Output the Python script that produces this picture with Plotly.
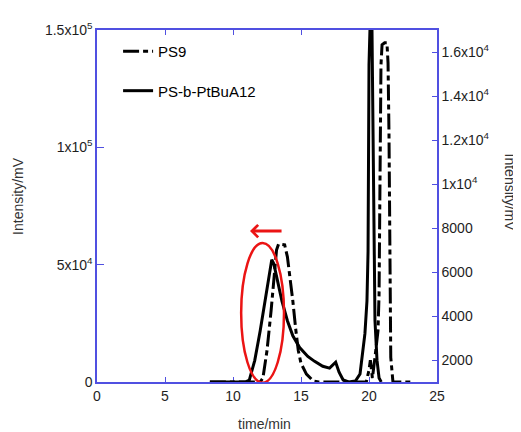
import plotly.graph_objects as go

# ---- data ----
ps9_t = [8.3, 12.0, 12.2, 12.5, 12.8, 13.0, 13.2, 13.35, 13.8, 14.0, 14.2, 14.4, 14.6, 14.8, 15.0, 15.4,
         15.9, 16.3, 19.8, 20.0, 20.1, 20.25, 20.44, 20.66, 20.74, 20.81, 20.88, 20.96, 21.15, 21.32,
         21.4, 21.47, 21.54, 21.6, 21.76, 23.3]
ps9_v = [1000, 1000, 1180, 2430, 4230, 5800, 7000, 7270, 7230, 6690, 5800, 4680, 3470, 2430, 1850, 1360,
         1045, 1000, 1000, 1540, 1990, 1180, 2120, 3320, 4970, 9160, 15400, 16330, 16420, 16420,
         15500, 12300, 6920, 2120, 1000, 1000]

blk_t = [8.3, 10.9, 11.2, 11.6, 12.0, 12.4, 12.7, 12.85, 13.0, 13.3, 13.6, 14.0, 14.4, 14.9, 15.5, 16.0,
         16.6, 17.1, 17.4, 17.55, 17.8, 18.1, 18.5, 19.0, 19.34, 19.49, 19.7, 19.85, 19.93, 20.0, 20.07,
         20.22, 20.29, 20.37, 20.44, 20.59, 20.74, 20.9]
blk_v = [0, 0, 840, 9240, 21800, 36500, 47900, 52100, 50400, 42900, 34500, 26100, 19700, 14700, 10900, 8800,
         6700, 5900, 7600, 8400, 4200, 840, 0, 420, 3400, 10500, 20600, 34500, 55500, 135300, 150000,
         150000, 97700, 55500, 26100, 9200, 1700, 0]

x_ticks = [0, 5, 10, 15, 20, 25]
y1_ticks = [0, 50000, 100000, 150000]
y1_text = ["0", "5x10<sup>4</sup>", "1x10<sup>5</sup>", "1.5x10<sup>5</sup>"]
y2_ticks = [2000, 4000, 6000, 8000, 10000, 12000, 14000, 16000]
y2_text = ["2000", "4000", "6000", "8000", "1x10<sup>4</sup>", "1.2x10<sup>4</sup>",
           "1.4x10<sup>4</sup>", "1.6x10<sup>4</sup>"]

FONT = "Arial, Liberation Sans, sans-serif"
AX = "rgb(80,80,225)"
TXT = "#1e1e1e"

fig = go.Figure()
fig.add_trace(go.Scatter(x=ps9_t, y=ps9_v, name="PS9", yaxis="y2", mode="lines",
                         line=dict(color="black", width=3, dash="16px,4px,5px,4px"),
                         legendgroup="a", cliponaxis=False))
fig.add_trace(go.Scatter(x=blk_t, y=blk_v, name="PS-b-PtBuA12", mode="lines",
                         line=dict(color="black", width=3),
                         legendgroup="b", cliponaxis=False))

fig.update_layout(
    width=513, height=424,
    margin=dict(l=89, r=84, t=17, b=50),
    paper_bgcolor="white", plot_bgcolor="white",
    font=dict(family=FONT, size=14, color=TXT),
    showlegend=True,
    legend=dict(x=0.062, y=0.986, xanchor="left", yanchor="top", bgcolor="rgba(0,0,0,0)",
                font=dict(size=15, color="black"), tracegroupgap=17, itemwidth=30),
    xaxis=dict(range=[0, 25], tickvals=x_ticks, ticktext=[str(v) for v in x_ticks],
               showline=True, linecolor=AX, linewidth=1.5, mirror="ticks",
               ticks="inside", ticklen=5, tickcolor=AX, showgrid=False, zeroline=False,
               layer="below traces"),
    yaxis=dict(range=[0, 150000], tickvals=y1_ticks, ticktext=y1_text,
               showline=True, linecolor=AX, linewidth=1.5, ticks="inside", ticklen=7,
               tickcolor=AX, showgrid=False, zeroline=False, layer="below traces"),
    yaxis2=dict(range=[1000, 17000], tickvals=y2_ticks, ticktext=y2_text, overlaying="y",
                side="right", showline=True, linecolor=AX, linewidth=1.5, ticks="inside",
                ticklen=5, tickcolor=AX, showgrid=False, zeroline=False, layer="below traces"),
)

fig.add_shape(type="circle", xref="x", yref="y", x0=10.6, x1=13.75, y0=-300, y1=59200,
              line=dict(color="rgb(235,20,20)", width=2.5))

fig.add_annotation(x=11.25, y=64300, ax=13.68, ay=64300, xref="x", yref="y", axref="x", ayref="y",
                   text="", showarrow=True, arrowhead=4, arrowsize=0.8, arrowwidth=3,
                   arrowcolor="rgb(235,20,20)")

fig.add_annotation(text="Intensity/mV", textangle=-90, x=-0.232, y=0.529, xref="paper", yref="paper",
                   xanchor="center", yanchor="middle",
                   showarrow=False, font=dict(size=14, color="#333"))
fig.add_annotation(text="Intensity/mV", textangle=90, x=1.215, y=0.538, xref="paper", yref="paper",
                   xanchor="center", yanchor="middle",
                   showarrow=False, font=dict(size=14, color="#333"))
fig.add_annotation(text="time/min", x=0.494, y=-0.12, xref="paper", yref="paper",
                   xanchor="center", yanchor="middle",
                   showarrow=False, font=dict(size=14, color="#333"))

fig.write_html("out.html")
